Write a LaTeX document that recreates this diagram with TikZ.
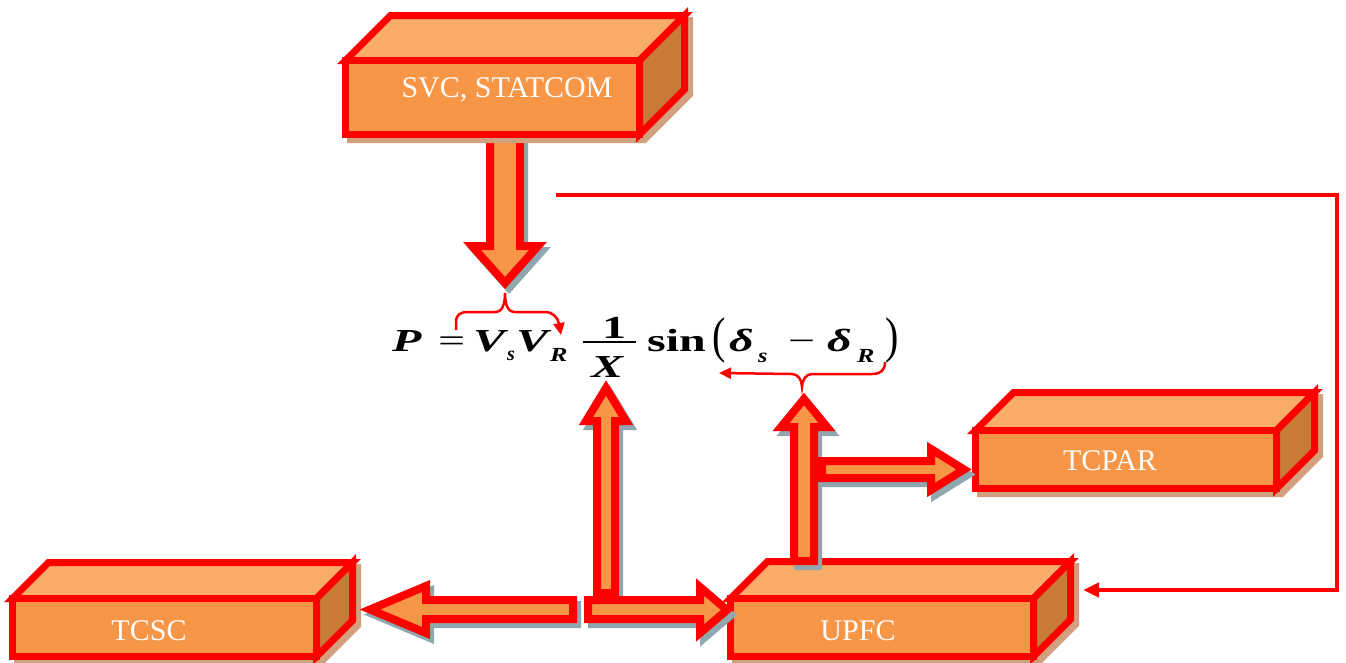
\documentclass[tikz,border=0pt]{standalone}
\usepackage{graphicx}
\usepackage{fontspec}
\setmainfont{Liberation Serif}
\usetikzlibrary{arrows.meta}
\definecolor{frontc}{HTML}{F79646}
\definecolor{topc}{HTML}{F9AC6A}
\definecolor{sidec}{HTML}{C77B37}
\definecolor{boxsh}{HTML}{D1A07E}
\definecolor{arrsh}{HTML}{8FA8B0}
\tikzset{
  boxline/.style={draw=red, line width=7pt, line join=miter},
  barrow/.style={draw=red, fill=frontc, line width=8pt, line join=miter},
  arrshadow/.style={draw=arrsh, fill=arrsh, line width=8pt, line join=miter},
  lbl/.style={text=white, font=\fontsize{30}{36}\selectfont, inner sep=0pt},
  thinred/.style={draw=red, line width=4pt},
  bracered/.style={draw=red, line width=2.5pt},
}
\newcommand\mycuboid[5]{%
  \filldraw[draw=boxsh, fill=boxsh, line width=7pt, shift={(5,5)}]
    (#1,#2) -- ({#1+#5},{#2-#5}) -- ({#3+#5},{#2-#5}) -- ({#3+#5},{#4-#5}) -- (#3,#4) -- (#1,#4) -- cycle;
  \filldraw[boxline, fill=topc] (#1,#2) -- ({#1+#5},{#2-#5}) -- ({#3+#5},{#2-#5}) -- (#3,#2) -- cycle;
  \filldraw[boxline, fill=sidec] (#3,#2) -- ({#3+#5},{#2-#5}) -- ({#3+#5},{#4-#5}) -- (#3,#4) -- cycle;
  \filldraw[boxline, fill=frontc] (#1,#2) rectangle (#3,#4);
}
\newcommand\blockarr[1]{%
  \filldraw[arrshadow, shift={(4,5)}] #1;
  \filldraw[barrow] #1;
}
% glyph placed at x offset #1 (pt), raised #2 (pt), widened 1.5x
\newcommand\gl[3]{\makebox[0pt][l]{\hspace*{#1pt}\raisebox{#2pt}{\scalebox{1.5}[1]{#3}}}}
\newcommand\glx[4]{\makebox[0pt][l]{\hspace*{#2pt}\raisebox{#3pt}{\scalebox{#1}[1]{#4}}}}
\newcommand\subsz{\fontsize{20}{22}\selectfont}
\begin{document}
\begin{tikzpicture}[x=1pt,y=-1pt]
\useasboundingbox (0,0) rectangle (1346,662);
% SVC arrow (under the box)
\blockarr{(490,136) -- (520,136) -- (520,246) -- (538,246) -- (505,283) -- (472,246) -- (490,246) -- cycle}
% boxes
\mycuboid{345.5}{60.5}{639.5}{134.5}{45}
\mycuboid{12.5}{598.5}{316.5}{656.5}{36}
\mycuboid{730.5}{598.5}{1033.5}{656.5}{37}
\mycuboid{975.5}{430.5}{1276.5}{488.5}{38}
\node[lbl] (svc) at (507,90) {SVC, STATCOM};
\node[lbl] (tcsc) at (149,631) {TCSC};
\node[lbl] (upfc) at (858,631) {UPFC};
\node[lbl] (tcpar) at (1110,461) {TCPAR};
% block arrows
\blockarr{(597,593) -- (615,593) -- (615,421) -- (626,421) -- (606,388) -- (586,421) -- (597,421) -- cycle}
\blockarr{(794,561) -- (814,561) -- (814,427) -- (827,427) -- (804,399) -- (781,427) -- (794,427) -- cycle}
\blockarr{(822,461) -- (931,461) -- (931,449) -- (964,469.5) -- (931,490) -- (931,478) -- (822,478) -- cycle}
\blockarr{(573,600) -- (426,600) -- (426,586) -- (370,609.5) -- (426,633) -- (426,619) -- (573,619) -- cycle}
\blockarr{(588,600) -- (700,600) -- (700,587) -- (727,610) -- (700,633) -- (700,619) -- (588,619) -- cycle}
% formula
\node[anchor=base west, inner sep=0pt] (eq) at (388,351) {\fontsize{32}{38}\selectfont\bfseries\itshape
  \gl{4}{0}{P}%
  \gl{50}{0}{\upshape\mdseries =}%
  \gl{85}{0}{V}%
  \glx{1}{119}{-9}{\subsz s}%
  \gl{128}{0}{V}%
  \glx{1.3}{162}{-10}{\subsz R}%
  \gl{214}{13}{\upshape 1}%
  \makebox[0pt][l]{\hspace*{195pt}\rule[7.8pt]{53pt}{2.4pt}}%
  \gl{203}{-26}{X}%
  \gl{259}{0}{\upshape sin}%
  \glx{0.8}{324}{-1}{\fontsize{50}{50}\selectfont\mdseries\upshape (}%
  \gl{341}{0}{δ}%
  \glx{1.2}{370}{-11}{\subsz s}%
  \gl{400}{0}{\upshape\mdseries −}%
  \gl{439}{0}{δ}%
  \glx{1.3}{469}{-11}{\subsz R}%
  \glx{0.8}{497}{-1}{\fontsize{50}{50}\selectfont\mdseries\upshape )}%
  \hspace*{512pt}};
% braces
\coordinate (b1s) at (456,330);
\coordinate (b1e) at (561,335);
\draw[bracered, -{Triangle[length=12pt,width=11pt]}] (b1s) -- (456,322) .. controls (456,315) and (460,312) .. (468,312) -- (495,312)
  .. controls (502,312) and (505,305) .. (505,293) .. controls (505,305) and (508,312) .. (515,312) -- (545,312)
  .. controls (553,312) and (558,318) .. (b1e);
\coordinate (b2s) at (885,362);
\coordinate (b2e) at (719,373);
\draw[bracered, -{Triangle[length=12pt,width=11pt]}] (b2s) .. controls (885,370) and (881,374) .. (872,374) -- (812,374)
  .. controls (806,374) and (802,380) .. (802,387) .. controls (802,380) and (798,374) .. (792,374) -- (b2e);
% feedback line
\coordinate (ls) at (556,195);
\coordinate (le) at (1083,590);
\draw[thinred, -{Triangle[length=16pt,width=14pt]}] (ls) -- (1337,195) -- (1337,590) -- (le);
\end{tikzpicture}
\end{document}
